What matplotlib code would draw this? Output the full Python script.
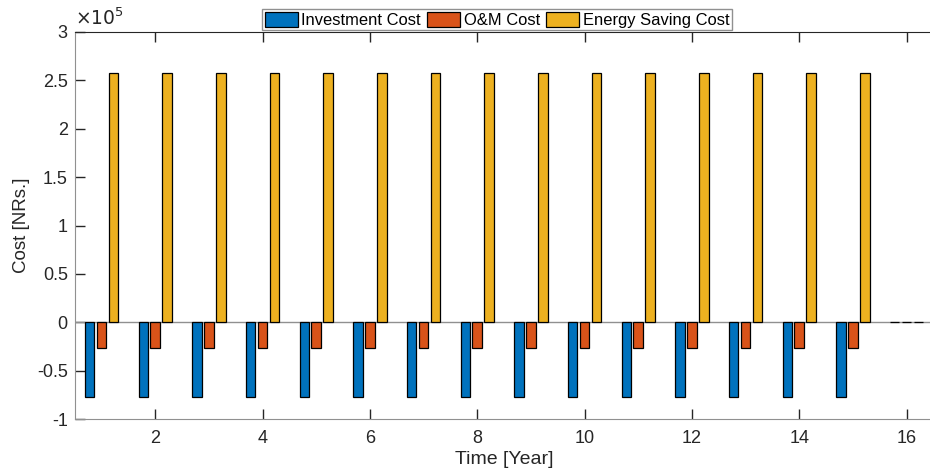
import numpy as np
import matplotlib
matplotlib.use("Agg")
import matplotlib.pyplot as plt
from matplotlib.ticker import FuncFormatter, MultipleLocator
from matplotlib.patches import Patch

plt.rcParams['font.family'] = ['Liberation Sans', 'DejaVu Sans']
plt.rcParams['axes.unicode_minus'] = False

years = list(range(1, 17))
investment = [-77600]*15 + [0]
om_cost = [-26500]*15 + [0]
energy_saving = [257500]*15 + [0]
series_names = ["Investment Cost", "O&M Cost", "Energy Saving Cost"]
colors = ["#0072BD", "#D95319", "#EDB120"]

W, H = 930, 474
fig = plt.figure(figsize=(W/100, H/100), dpi=100)
ax = fig.add_axes([74.7/W, 1-419/H, (933.4-74.7)/W, (419-32)/H])

x = np.array(years)
off = 0.222
bw = 0.178
for i, (vals, c) in enumerate(zip([investment, om_cost, energy_saving], colors)):
    ax.bar(x + (i-1)*off, vals, width=bw, color=c, edgecolor='black', linewidth=0.9, zorder=3)

ax.axhline(0, color='#909090', linewidth=1.0, zorder=2)

ax.set_xlim(0.5, 16.5)
ax.set_ylim(-1e5, 3e5)
ax.xaxis.set_major_locator(MultipleLocator(2))
ax.yaxis.set_major_locator(MultipleLocator(0.5e5))
ax.yaxis.set_major_formatter(FuncFormatter(lambda v, p: f"{v/1e5:g}"))
ax.tick_params(direction='in', length=7, width=1, colors='#262626', labelsize=13,
               top=True, right=False)
ax.tick_params(axis='y', pad=5)
ax.tick_params(axis='x', pad=8)
for s in ['left', 'bottom']:
    ax.spines[s].set_color('#909090')
ax.spines['top'].set_color('#262626')
ax.spines['right'].set_visible(False)

ax.set_xlabel("Time [Year]", fontsize=14, color='#262626', labelpad=3)
ax.set_ylabel("Cost [NRs.]", fontsize=13.5, color='#262626', labelpad=5)
ax.text(0.0, 1.008, r"$\times10^{5}$", transform=ax.transAxes, fontsize=13.5,
        color='#262626', ha='left', va='bottom', math_fontfamily='dejavusans')

handles = [Patch(facecolor=c, edgecolor='black', linewidth=0.9) for c in colors]
leg = fig.legend(handles, series_names, loc='center', bbox_to_anchor=(497/W, 1-19.8/H),
                 ncol=3, fontsize=11.9, frameon=True, fancybox=False, framealpha=1,
                 edgecolor='#909090', handlelength=2.0, handleheight=1.0,
                 handletextpad=0.2, columnspacing=0.4, borderpad=0.15, borderaxespad=0)
leg.get_frame().set_linewidth(1.0)

fig.savefig("out.png", dpi=100)
